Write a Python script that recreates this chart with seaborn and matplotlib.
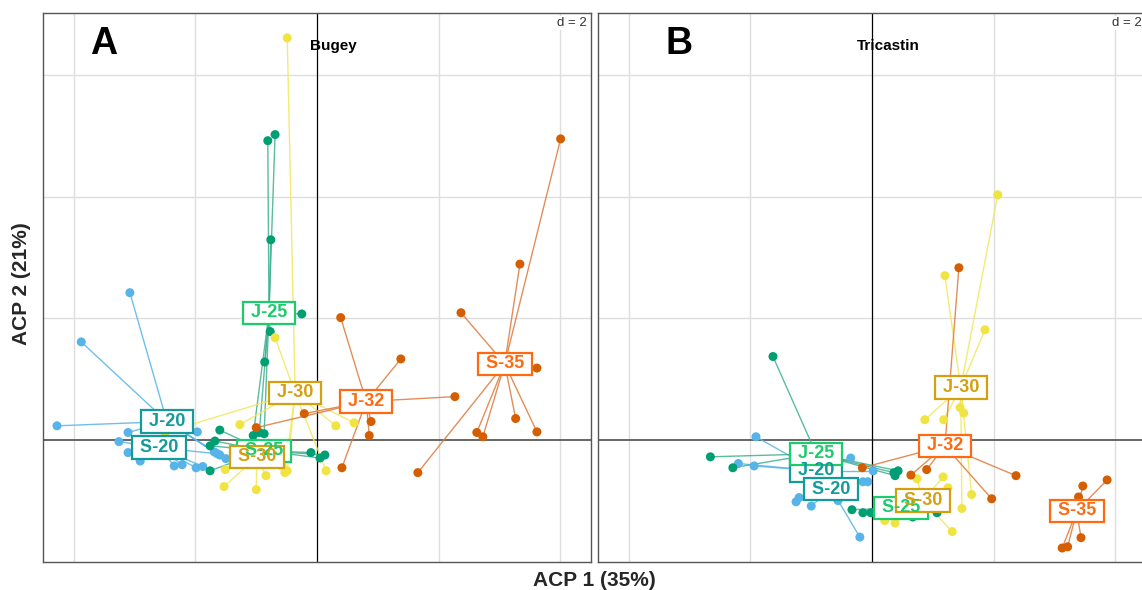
import numpy as np
import pandas as pd
import matplotlib
matplotlib.use("Agg")
import matplotlib.pyplot as plt
from matplotlib.collections import LineCollection
import seaborn as sns

# ---- class order, colours -------------------------------------------------
classes = ["J-20", "S-20", "J-25", "S-25", "J-30", "S-30", "J-32", "S-35"]
temp_group = ["20", "20", "25", "25", "30", "30", "32", "32"]
point_colors = {"20": "#56B4E9", "25": "#009E73", "30": "#F0E442", "32": "#D55E00"}
line_colors = {"20": "#56B4E9", "25": "#3DB08E", "30": "#F2E75A", "32": "#DD7A3C"}
label_colors = {"20": "#139A9A", "25": "#1CCB6C", "30": "#D4A010", "32": "#FF6A10"}

# ---- Bugey: individual scores on ACP axes 1-2 -----------------------------
bugey_class = (["J-20"] * 8 + ["S-20"] * 8 + ["J-25"] * 9 + ["S-25"] * 7 +
               ["J-30"] * 9 + ["S-30"] * 6 + ["J-32"] * 8 + ["S-35"] * 9)
bugey_x = [-3.08, -3.88, -4.28, -1.97, -1.69, -1.60, -1.50, -3.11,
           -3.26, -3.11, -2.91, -2.35, -2.22, -1.99, -1.88, -1.64,
           -0.81, -0.69, -0.76, -0.25, -0.77, -0.86, -1.05, -0.95, -0.87,
           -1.60, -1.68, -1.76, -1.76, -0.10, 0.05, 0.13,
           -0.49, -0.69, -1.27, 0.31, 0.61, 0.15, -0.49, -0.53, -2.50,
           -1.51, -1.53, -1.00, -0.84, -0.77, -0.58,
           0.39, 1.38, 2.27, -0.21, 0.89, 0.86, 0.41, -1.00,
           4.01, 3.34, 2.37, 3.62, 3.27, 3.62, 2.63, 2.73, 1.66]
bugey_y = [2.42, 1.61, 0.23, 0.13, -0.20, -0.25, -0.31, 0.12,
           -0.03, -0.21, -0.35, -0.43, -0.41, -0.46, -0.44, -0.23,
           4.92, 5.02, 3.29, 2.07, 1.78, 1.28, 0.07, 0.12, 0.10,
           0.16, -0.02, -0.10, -0.51, -0.21, -0.30, -0.25,
           6.61, 1.68, 0.25, 0.23, 0.28, -0.51, -0.51, -0.54, 0.12,
           -0.49, -0.77, -0.82, -0.59, -0.36, -0.43,
           2.01, 1.33, 0.71, 0.43, 0.30, 0.07, -0.46, 0.20,
           4.95, 2.89, 2.09, 1.18, 0.35, 0.13, 0.12, 0.05, -0.54]
# class gravity centres
bugey_cx = [-2.47, -2.60, -0.79, -0.87, -0.36, -0.99, 0.81, 3.09]
bugey_cy = [0.30, -0.13, 2.09, -0.18, 0.77, -0.28, 0.63, 1.25]

# ---- Tricastin ------------------------------------------------------------
tric_class = (["J-20"] * 5 + ["S-20"] * 7 + ["J-25"] * 6 + ["S-25"] * 5 +
              ["J-30"] * 9 + ["S-30"] * 7 + ["J-32"] * 6 + ["S-35"] * 6)
tric_x = [-1.91, -2.20, -1.94, -0.35, 0.02,
          -1.20, -1.25, -1.00, -0.56, -0.20, -0.15, -0.07,
          -1.63, -2.66, -2.29, 0.36, 0.43, 0.38,
          -0.33, -0.15, -0.02, 0.67, 1.07,
          2.07, 1.20, 1.86, 1.45, 1.51, 0.87, 1.18, 1.64, 1.48,
          0.74, 1.17, 1.25, 1.32, 0.21, 0.38, 0.56,
          1.43, 0.64, 0.90, 2.37, 1.97, -0.16,
          3.87, 3.47, 3.40, 3.44, 3.13, 3.22]
tric_y = [0.05, -0.39, -0.43, -0.30, -0.51,
          -0.95, -1.02, -1.09, -1.00, -1.60, -0.69, -0.69,
          1.37, -0.28, -0.46, -0.54, -0.51, -0.59,
          -1.15, -1.20, -1.20, -1.27, -1.20,
          4.03, 2.70, 1.81, 0.53, 0.44, 0.33, 0.33, -0.90, -1.13,
          -0.64, -0.61, -0.79, -1.51, -1.33, -1.37, -0.99,
          2.83, -0.58, -0.49, -0.59, -0.97, -0.46,
          -0.66, -0.76, -0.94, -1.61, -1.78, -1.76]
tric_cx = [-0.92, -0.67, -0.92, 0.48, 1.46, 0.84, 1.20, 3.37]
tric_cy = [-0.51, -0.81, -0.23, -1.12, 0.86, -1.00, -0.10, -1.17]

XLIM = (-4.51, 4.51)
YLIM = (-2.01, 7.02)
GRID_X = [-4, -2, 2, 4]
GRID_Y = [2, 4, 6]

sns.set_theme(style="white")
plt.rcParams["font.family"] = ["Liberation Sans", "DejaVu Sans"]

W, H = 1142, 590
fig = plt.figure(figsize=(W / 100, H / 100), dpi=100)
fig.patch.set_facecolor("white")


def add_panel(rect, letter, letter_x, site, cls, xs, ys, cxs, cys):
    ax = fig.add_axes(rect)
    ax.set_xlim(*XLIM)
    ax.set_ylim(*YLIM)
    ax.set_facecolor("white")
    for g in GRID_X:
        ax.axvline(g, color="#DEDEDE", lw=1.0, zorder=0)
    for g in GRID_Y:
        ax.axhline(g, color="#DEDEDE", lw=1.0, zorder=0)
    ax.axhline(0, color="#4D4D4D", lw=1.2, zorder=1)
    ax.axvline(0, color="black", lw=0.9, zorder=1)
    ax.set_xticks([])
    ax.set_yticks([])
    for sp in ax.spines.values():
        sp.set_color("#555555")
        sp.set_linewidth(1.0)

    df = pd.DataFrame({"x": xs, "y": ys, "cls": cls})
    grp_of = dict(zip(classes, temp_group))
    cx_of = dict(zip(classes, cxs))
    cy_of = dict(zip(classes, cys))
    df["grp"] = df["cls"].map(grp_of)
    df["cx"] = df["cls"].map(cx_of)
    df["cy"] = df["cls"].map(cy_of)

    # star segments linking each individual to its class centre
    segs = [[(r.x, r.y), (r.cx, r.cy)] for r in df.itertuples()]
    cols = [line_colors[g] for g in df["grp"]]
    ax.add_collection(LineCollection(segs, colors=cols, linewidths=1.0,
                                     alpha=0.85, zorder=2))

    sns.scatterplot(data=df, x="x", y="y", hue="grp", palette=point_colors,
                    s=42, edgecolor="none", linewidth=0, legend=False,
                    ax=ax, zorder=3)
    ax.set_xlabel("")
    ax.set_ylabel("")

    # class labels: boxes first, text on top
    for c, g, x0, y0 in zip(classes, temp_group, cxs, cys):
        ax.text(x0, y0, " " + c + " ", ha="center", va="center", fontsize=13,
                fontweight="bold", color="none", zorder=5,
                bbox=dict(boxstyle="square,pad=0.15", fc="white",
                          ec=label_colors[g], lw=1.6))
    for c, g, x0, y0 in zip(classes, temp_group, cxs, cys):
        ax.text(x0, y0, " " + c + " ", ha="center", va="center", fontsize=13,
                fontweight="bold", color=label_colors[g], zorder=6)

    ax.text(letter_x, 0.944, letter, transform=ax.transAxes, ha="center",
            va="center", fontsize=27, fontweight="bold", color="black")
    ax.text(0.530, 0.940, site, transform=ax.transAxes, ha="center",
            va="center", fontsize=11, fontweight="bold", color="black", zorder=7)
    ax.text(0.993, 0.982, "d = 2", transform=ax.transAxes, ha="right",
            va="center", fontsize=9.5, color="#333333", zorder=7,
            bbox=dict(boxstyle="square,pad=0.1", fc="white", ec="none"))
    return ax


ax_a = add_panel([43 / W, 28 / H, 548 / W, 549 / H], "A", 0.111, "Bugey",
                 bugey_class, bugey_x, bugey_y, bugey_cx, bugey_cy)
ax_b = add_panel([598 / W, 28 / H, 548 / W, 549 / H], "B", 0.148, "Tricastin",
                 tric_class, tric_x, tric_y, tric_cx, tric_cy)

fig.text(594 / W, 1 - 580 / H, "ACP 1 (35%)", ha="center", va="center",
         fontsize=15, fontweight="bold")
fig.text(22 / W, 1 - 284 / H, "ACP 2 (21%)", ha="center", va="center",
         rotation=90, fontsize=15, fontweight="bold")

fig.savefig("out.png", dpi=100, facecolor="white")
